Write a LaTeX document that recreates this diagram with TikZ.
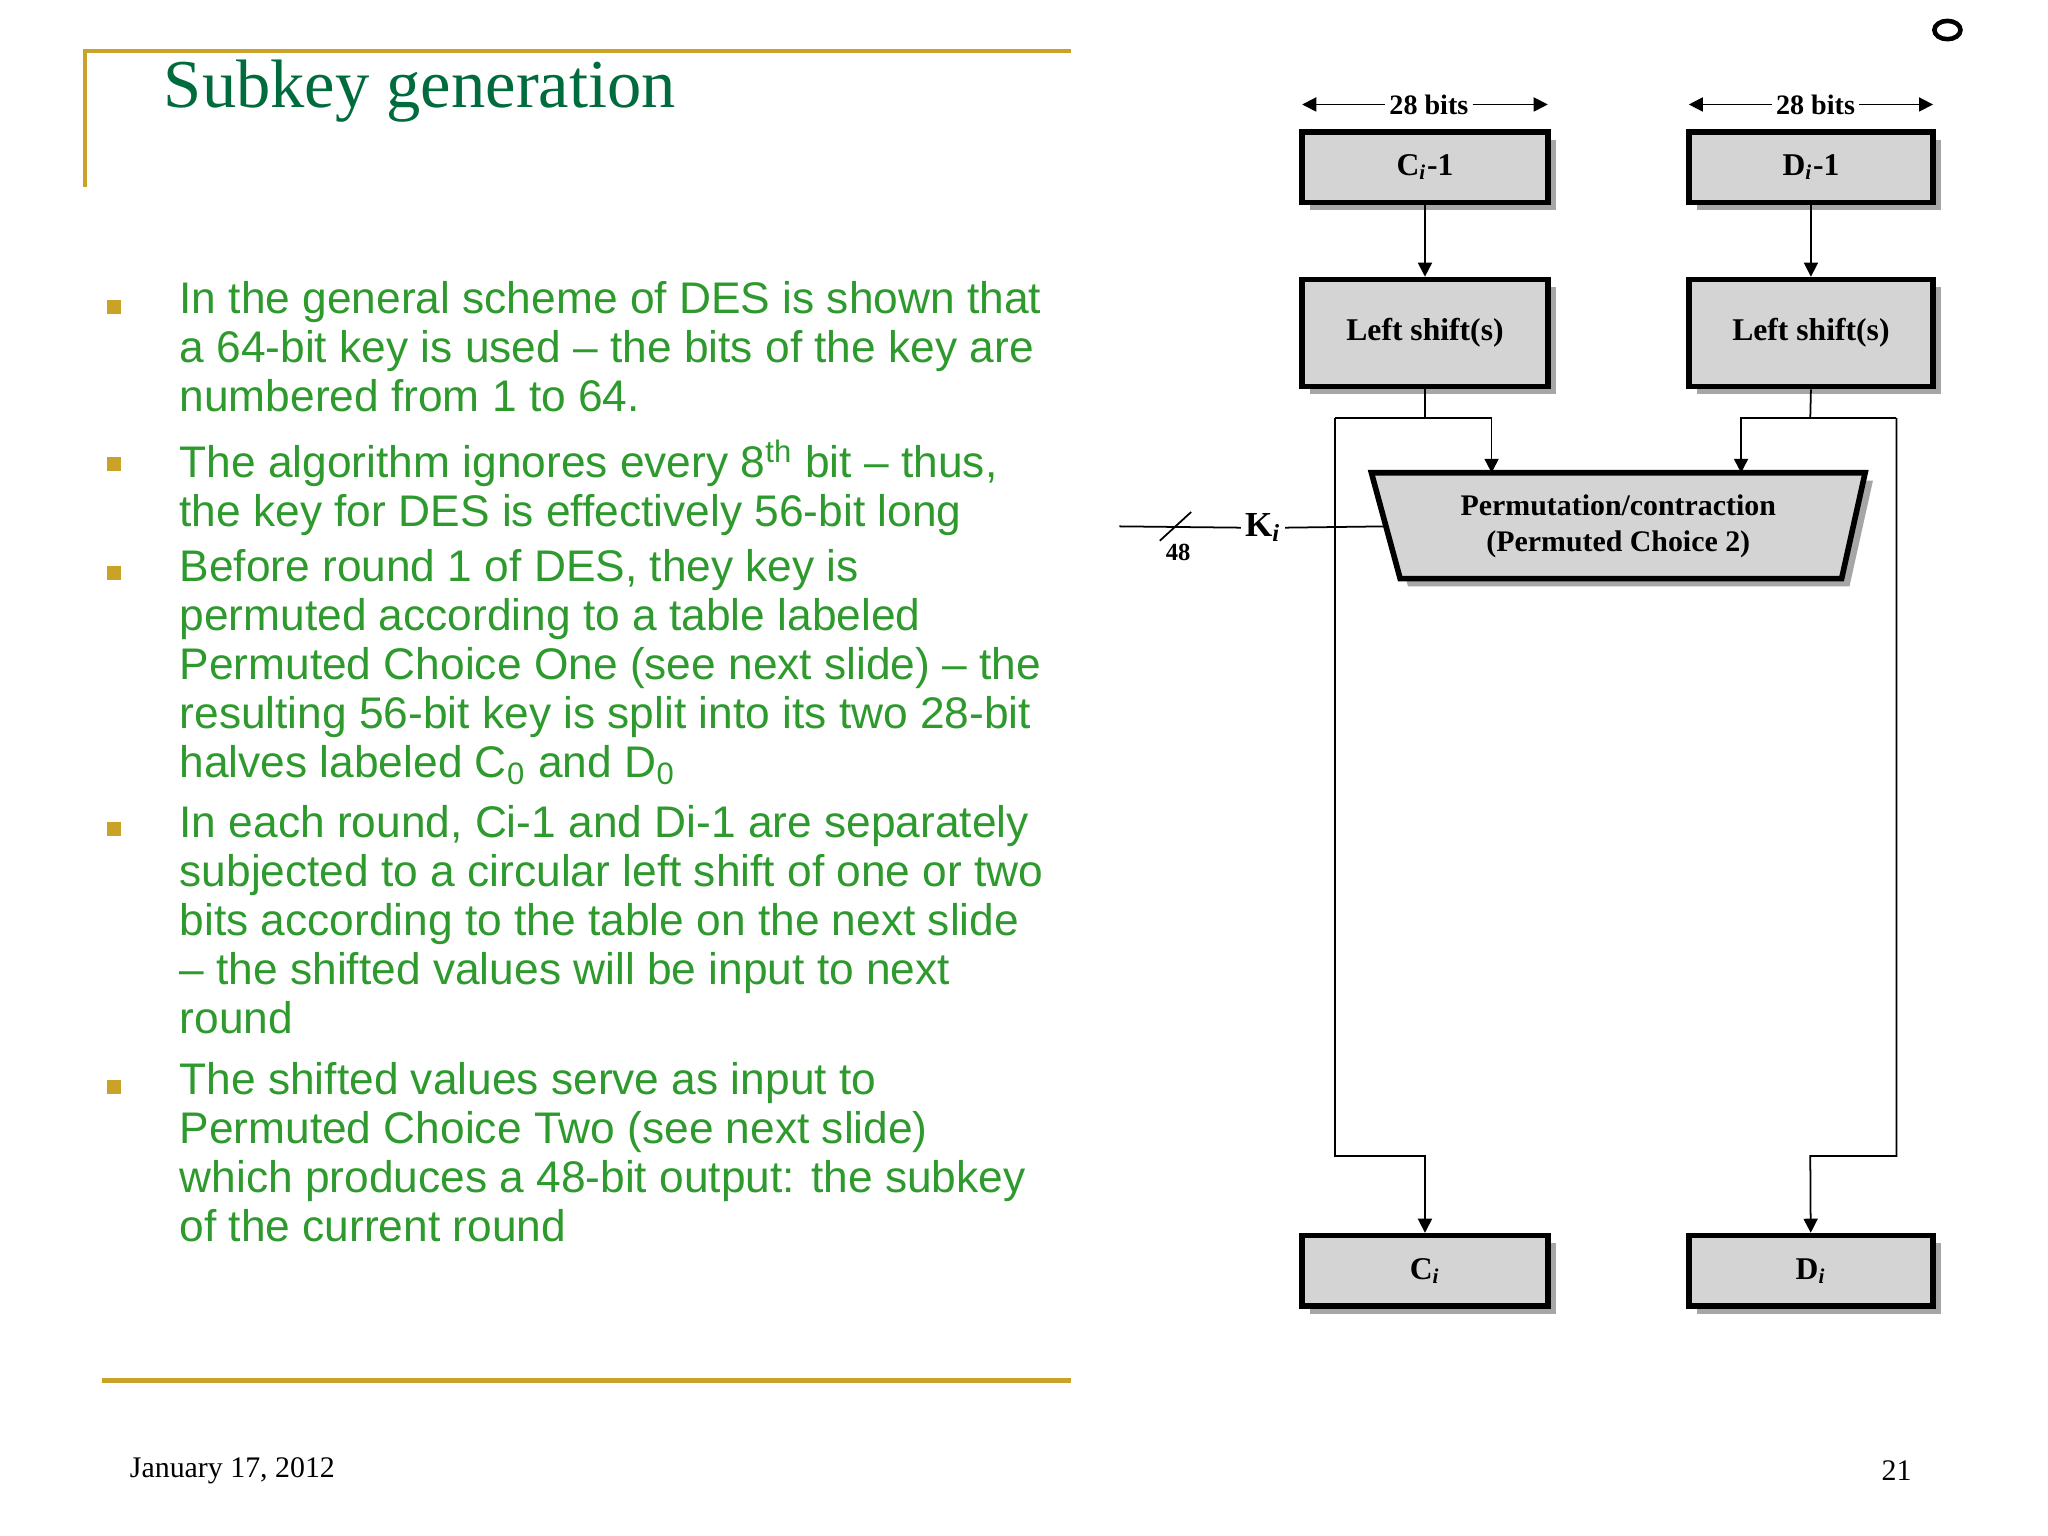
\documentclass[tikz,border=0pt]{standalone}
\usepackage{fontspec}
\setmainfont{Liberation Serif}
\setsansfont{Liberation Sans}
\usetikzlibrary{arrows.meta}
\definecolor{gold}{HTML}{C9A227}
\definecolor{tgreen}{HTML}{006B3C}
\definecolor{bgreen}{HTML}{2E9A2E}
\definecolor{boxg}{HTML}{D4D4D4}
\begin{document}
\begin{tikzpicture}[x=0.013061cm,y=-0.013061cm,
  bul/.style={anchor=north west,inner sep=0pt,align=left,font=\sffamily\fontsize{12.6}{13.95}\selectfont,text=bgreen},
  sq/.style={fill=gold,minimum size=4pt,inner sep=0pt},
  kbox/.style={draw,line width=1.6pt,fill=boxg,inner sep=0pt,font=\bfseries\fontsize{9}{10}\selectfont},
  arr/.style={-{Triangle[length=4pt,width=4pt]},line width=0.5pt},
  ln/.style={line width=0.5pt}]
\useasboundingbox (0,0) rectangle (1568,1176);
\fill[white] (0,0) rectangle (1568,1176);
% frame lines
\draw[gold,line width=1.2pt] (65,143) -- (65,39) -- (820,39);
\draw[gold,line width=1.2pt] (78,1057) -- (820,1057);
\node[anchor=west,text=tgreen,font=\fontsize{19.5}{22}\selectfont] (title) at (116,70) {Subkey generation};
\node[anchor=west,font=\fontsize{8.5}{10}\selectfont] (date) at (90,1126) {January 17, 2012};
\node[anchor=east,font=\fontsize{8.5}{10}\selectfont] (page) at (1473,1126) {21};
\draw[line width=1.3pt] (1491,23) ellipse (10 and 7);
% bullets
\node[sq] (s1) at (87,235) {};
\node[bul] (b1) at (137,215) {In the general scheme of DES is shown that\\a 64-bit key is used -- the bits of the key are\\numbered from 1 to 64.};
\node[sq] (s2) at (87,355) {};
\node[bul] (b2) at (137,336) {The algorithm ignores every 8\textsuperscript{th} bit -- thus,\\the key for DES is effectively 56-bit long};
\node[sq] (s3) at (87,439) {};
\node[bul] (b3) at (137,420) {Before round 1 of DES, they key is\\permuted according to a table labeled\\Permuted Choice One (see next slide) -- the\\resulting 56-bit key is split into its two 28-bit\\halves labeled C\textsubscript{0} and D\textsubscript{0}};
\node[sq] (s4) at (87,635) {};
\node[bul] (b4) at (137,616) {In each round, Ci-1 and Di-1 are separately\\subjected to a circular left shift of one or two\\bits according to the table on the next slide\\-- the shifted values will be input to next\\round};
\node[sq] (s5) at (87,832) {};
\node[bul] (b5) at (137,813) {The shifted values serve as input to\\Permuted Choice Two (see next slide)\\which produces a 48-bit output: the subkey\\of the current round};
% diagram boxes
\newcommand{\kb}[6]{% name, x1,y1,x2,y2,text
  \fill[gray!70] (#2+6,#3+6) rectangle (#4+6,#5+6);
  \node[kbox,minimum width={(#4-#2)*0.013061cm},minimum height={(#5-#3)*0.013061cm}] (#1) at ({(#2+#4)/2},{(#3+#5)/2}) {#6};}
\kb{c1}{997}{101}{1185}{155}{C\textsubscript{\textit{i}}-1}
\kb{d1}{1293}{101}{1480}{155}{D\textsubscript{\textit{i}}-1}
\kb{ls1}{997}{214}{1185}{296}{Left shift(s)}
\kb{ls2}{1293}{214}{1480}{296}{Left shift(s)}
\kb{ci}{997}{946}{1185}{1000}{C\textsubscript{\textit{i}}}
\kb{di}{1293}{946}{1480}{1000}{D\textsubscript{\textit{i}}}
% 28 bits
\node[font=\bfseries\fontsize{8}{9}\selectfont,inner sep=1pt,fill=white] (t1) at (1094,80) {28 bits};
\node[font=\bfseries\fontsize{8}{9}\selectfont,inner sep=1pt,fill=white] (t2) at (1390,80) {28 bits};
\draw[arr] (t1.west) -- (997,80); \draw[arr] (t1.east) -- (1185,80);
\draw[arr] (t2.west) -- (1293,80); \draw[arr] (t2.east) -- (1480,80);
% trapezoid
\fill[gray!70] (1056,368) -- (1434,368) -- (1416,449) -- (1078,449) -- cycle;
\draw[line width=1.6pt,fill=boxg] (1050,362) -- (1428,362) -- (1410,443) -- (1072,443) -- cycle;
\node[font=\bfseries\fontsize{8.5}{10.5}\selectfont,align=center] (pc) at (1239,403) {Permutation/contraction\\(Permuted Choice 2)};
\coordinate (pcl) at (1061,403);
% connectors
\draw[arr] (c1) -- (ls1);
\draw[arr] (d1) -- (ls2);
\draw[ln] (ls1.south) -- (1091,320);
\draw[arr] (1022,320) -- (1142,320) -- (1142,362);
\draw[arr] (1022,320) -- (1022,885) -- (1091,885) -- (ci);
\draw[ln] (ls2.south) -- (1386,320);
\draw[arr] (1452,320) -- (1333,320) -- (1333,362);
\draw[arr] (1452,320) -- (1452,885) -- (1386,885) -- (di);
% Ki
\node[font=\bfseries\fontsize{10}{12}\selectfont,inner sep=1pt] (ki) at (967,404) {K\textsubscript{\textit{i}}};
\coordinate (kin) at (857,403);
\draw[ln] (kin) -- (ki.west);
\draw[ln] (ki.east) -- (pcl);
\draw[ln] (888,414) -- (912,392);
\node[font=\bfseries\fontsize{7}{8}\selectfont] (n48) at (902,423) {48};
\end{tikzpicture}
\end{document}
